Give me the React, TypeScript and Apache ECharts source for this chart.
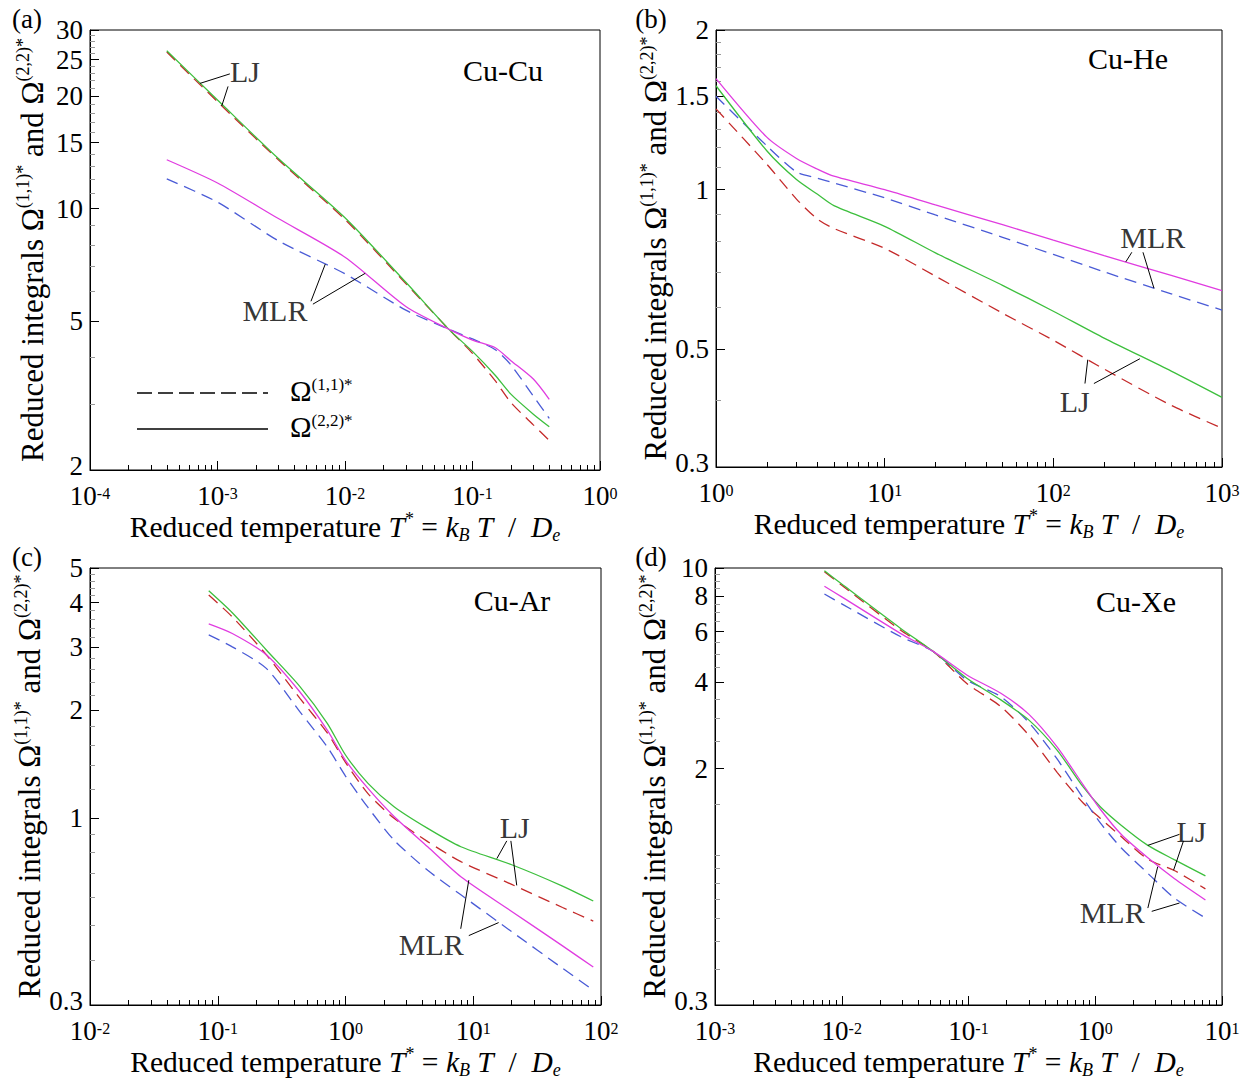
import React, { useEffect, useRef } from "react";
import * as echarts from "echarts";

const FONT = "Liberation Serif, Times New Roman, Times, serif";
const RED = "#c42a2a";
const GREEN = "#3dbf3d";
const BLUE = "#4a5bd6";
const MAGENTA = "#e03ce0";

// ---------- (a) Cu-Cu ----------
const T_A = [4e-4, 1e-3, 3e-3, 1e-2, 3e-2, 0.065, 0.1, 0.15, 0.2, 0.3, 0.4];
const LJ11_A = [26.2, 19.3, 13.5, 9.35, 6.3, 4.76, 4.1, 3.47, 3.03, 2.64, 2.4];
const LJ22_A = [26.4, 19.5, 13.6, 9.45, 6.35, 4.76, 4.15, 3.59, 3.19, 2.82, 2.61];
const MLR11_A = [12.0, 10.4, 8.2, 6.69, 5.35, 4.76, 4.48, 4.2, 3.82, 3.15, 2.75];
const MLR22_A = [13.5, 11.7, 9.4, 7.41, 5.47, 4.76, 4.45, 4.25, 3.92, 3.5, 3.09];
const Y_MAJOR_A = [2, 5, 10, 15, 20, 25, 30];
const Y_MINOR_A = [3, 4, 6, 7, 8, 9, 11, 12, 13, 14, 16, 17, 18, 19, 21, 22, 23, 24, 26, 27, 28, 29];

// ---------- (b) Cu-He ----------
const T_B = [1, 2, 3, 4, 5, 10, 20, 50, 100, 200, 500, 1000];
const LJ11_B = [1.42, 1.117, 0.96, 0.88, 0.845, 0.775, 0.687, 0.585, 0.52, 0.459, 0.392, 0.355];
const LJ22_B = [1.57, 1.184, 1.045, 0.98, 0.933, 0.853, 0.76, 0.66, 0.59, 0.525, 0.455, 0.406];
const MLR11_B = [1.5, 1.21, 1.08, 1.051, 1.03, 0.965, 0.896, 0.813, 0.755, 0.7, 0.636, 0.593];
const MLR22_B = [1.62, 1.256, 1.145, 1.093, 1.06, 1.0, 0.936, 0.859, 0.803, 0.751, 0.689, 0.645];
const Y_MAJOR_B = [0.3, 0.5, 1, 1.5, 2];
const Y_MINOR_B = [0.4, 0.6, 0.7, 0.8, 0.9, 1.1, 1.2, 1.3, 1.4, 1.6, 1.7, 1.8, 1.9];

// ---------- (c) Cu-Ar ----------
const T_C = [0.085, 0.13, 0.24, 0.44, 0.72, 1.0, 1.5, 2.4, 4.4, 8, 20, 50, 87];
const LJ11_C = [4.2, 3.65, 2.86, 2.16, 1.73, 1.43, 1.17, 0.998, 0.859, 0.755, 0.652, 0.562, 0.515];
const LJ22_C = [4.32, 3.75, 2.95, 2.33, 1.84, 1.5, 1.25, 1.075, 0.935, 0.831, 0.74, 0.645, 0.586];
const MLR11_C = [3.25, 3.01, 2.62, 1.98, 1.58, 1.31, 1.07, 0.867, 0.714, 0.61, 0.481, 0.38, 0.33];
const MLR22_C = [3.49, 3.28, 2.86, 2.25, 1.76, 1.45, 1.21, 1.01, 0.831, 0.685, 0.548, 0.439, 0.383];
const Y_MAJOR_C = [0.3, 1, 2, 3, 4, 5];
const Y_MINOR_C = [0.4, 0.5, 0.6, 0.7, 0.8, 0.9, 1.2, 1.4, 1.6, 1.8, 2.2, 2.4, 2.6, 2.8, 3.2, 3.4, 3.6, 3.8, 4.2, 4.4, 4.6, 4.8];

// ---------- (d) Cu-Xe ----------
const T_D = [0.0073, 0.01, 0.029, 0.053, 0.097, 0.18, 0.3, 0.5, 0.8, 1.1, 1.6, 2.6, 4.2, 7.4];
const LJ11_D = [9.7, 8.71, 6.08, 5.11, 3.96, 3.29, 2.61, 1.94, 1.52, 1.34, 1.16, 0.966, 0.883, 0.762];
const LJ22_D = [9.78, 8.79, 6.17, 5.11, 4.13, 3.47, 2.95, 2.32, 1.73, 1.47, 1.27, 1.08, 0.963, 0.845];
const MLR11_D = [8.12, 7.5, 5.77, 5.11, 4.07, 3.56, 2.89, 2.16, 1.58, 1.29, 1.06, 0.863, 0.708, 0.603];
const MLR22_D = [8.64, 7.93, 5.92, 5.11, 4.24, 3.66, 3.09, 2.38, 1.76, 1.44, 1.18, 0.977, 0.828, 0.697];
const Y_MAJOR_D = [0.3, 2, 4, 6, 8, 10];
const Y_MINOR_D = [0.4, 0.5, 0.6, 0.7, 0.8, 0.9, 1, 1.5, 2.5, 3, 3.5, 4.5, 5, 5.5, 6.5, 7, 7.5, 8.5, 9, 9.5];

// annotation anchors in data units [T, value]
const LABELS_A = [{ t: "LJ", at: [1.64e-3, 23.2] }, { t: "MLR", at: [2.82e-3, 5.35] }];
const LEADERS_A = [
  [[1.25e-3, 22.9], [7.3e-4, 21.6]],
  [[1.21e-3, 21.2], [1.08e-3, 18.8]],
  [[5.41e-3, 5.65], [7e-3, 7.1]],
  [[5.6e-3, 5.55], [0.0144, 6.71]],
];
const LABELS_B = [{ t: "MLR", at: [389, 0.814] }, { t: "LJ", at: [134, 0.399] }];
const LEADERS_B = [
  [[292, 0.762], [269, 0.731]],
  [[340, 0.762], [395, 0.652]],
  [[154, 0.431], [160, 0.478]],
  [[174, 0.431], [326, 0.48]],
];
const LABELS_C = [{ t: "LJ", at: [21.1, 0.939] }, { t: "MLR", at: [4.69, 0.444] }];
const LEADERS_C = [
  [[18.3, 0.863], [15.3, 0.77]],
  [[19.7, 0.863], [21.9, 0.648]],
  [[7.98, 0.49], [9.23, 0.67]],
  [[9.23, 0.469], [15.8, 0.51]],
];
const LABELS_D = [{ t: "LJ", at: [5.74, 1.21] }, { t: "MLR", at: [1.36, 0.628] }];
const LEADERS_D = [
  [[4.62, 1.18], [2.6, 1.08]],
  [[4.97, 1.12], [4.15, 0.885]],
  [[2.6, 0.653], [3.11, 0.91]],
  [[2.79, 0.636], [4.62, 0.68]],
];

const PANELS = [
  {
    box: { left: 90, top: 30, width: 510, height: 440 },
    dec: [-4, 0], yr: [2, 30], yMajor: Y_MAJOR_A, yMinor: Y_MINOR_A,
    T: T_A, lj11: LJ11_A, lj22: LJ22_A, mlr11: MLR11_A, mlr22: MLR22_A,
    labels: LABELS_A, leaders: LEADERS_A,
    letter: "(a)", letterPos: [27, 19], species: "Cu-Cu", speciesPos: [503, 70],
  },
  {
    box: { left: 716, top: 30, width: 506, height: 437 },
    dec: [0, 3], yr: [0.3, 2], yMajor: Y_MAJOR_B, yMinor: Y_MINOR_B,
    T: T_B, lj11: LJ11_B, lj22: LJ22_B, mlr11: MLR11_B, mlr22: MLR22_B,
    labels: LABELS_B, leaders: LEADERS_B,
    letter: "(b)", letterPos: [651, 19], species: "Cu-He", speciesPos: [1128, 58],
  },
  {
    box: { left: 90, top: 568, width: 511, height: 437 },
    dec: [-2, 2], yr: [0.3, 5], yMajor: Y_MAJOR_C, yMinor: Y_MINOR_C,
    T: T_C, lj11: LJ11_C, lj22: LJ22_C, mlr11: MLR11_C, mlr22: MLR22_C,
    labels: LABELS_C, leaders: LEADERS_C,
    letter: "(c)", letterPos: [27, 557], species: "Cu-Ar", speciesPos: [512, 600],
  },
  {
    box: { left: 715, top: 568, width: 507, height: 437 },
    dec: [-3, 1], yr: [0.3, 10], yMajor: Y_MAJOR_D, yMinor: Y_MINOR_D,
    T: T_D, lj11: LJ11_D, lj22: LJ22_D, mlr11: MLR11_D, mlr22: MLR22_D,
    labels: LABELS_D, leaders: LEADERS_D,
    letter: "(d)", letterPos: [651, 557], species: "Cu-Xe", speciesPos: [1136, 601],
  },
];

const lg = (v: number) => Math.log10(v);

const TICK_FS = 27;
const ANN_FS = 30;

const X_TITLE =
  "{n|Reduced temperature }{i|T}{s|*}{n| = }{i|k}{b|B}{i| T}{n|  /  }{i|D}{b|e}";
const Y_TITLE = "{n|Reduced integrals Ω}{s|(1,1)*}{n| and Ω}{s|(2,2)*}";

const xTitleRich = {
  n: { fontFamily: FONT, fontSize: 29.5, color: "#000", lineHeight: 34 },
  i: { fontFamily: FONT, fontSize: 29.5, fontStyle: "italic", color: "#000", lineHeight: 34 },
  s: { fontFamily: FONT, fontSize: 18, color: "#000", verticalAlign: "top", lineHeight: 18 },
  b: { fontFamily: FONT, fontSize: 18, fontStyle: "italic", color: "#000", verticalAlign: "bottom", lineHeight: 18 },
};
const yTitleRich = {
  n: { fontFamily: FONT, fontSize: 31, color: "#000", lineHeight: 36 },
  s: { fontFamily: FONT, fontSize: 18, color: "#000", verticalAlign: "top", lineHeight: 18 },
};

function buildOption() {
  const grid: any[] = [];
  const xAxis: any[] = [];
  const yAxis: any[] = [];
  const series: any[] = [];
  const graphic: any[] = [];

  PANELS.forEach((p, gi) => {
    grid.push({ ...p.box, show: true, borderColor: "#000", borderWidth: 1, backgroundColor: "transparent" });

    const xMinor: number[] = [];
    for (let d = p.dec[0]; d < p.dec[1]; d++) for (let k = 2; k <= 9; k++) xMinor.push(d + lg(k));

    const xi = xAxis.length;
    xAxis.push({
      type: "value", gridIndex: gi, min: p.dec[0], max: p.dec[1], interval: 1, position: "bottom",
      axisLine: { show: true, onZero: false, lineStyle: { color: "#000", width: 1 } },
      axisTick: { show: true, inside: true, length: 9, lineStyle: { color: "#000", width: 1 } },
      axisLabel: {
        margin: 15, showMinLabel: true, showMaxLabel: true,
        formatter: (v: number) => "{b|10}{s|" + Math.round(v) + "}",
        rich: {
          b: { fontFamily: FONT, fontSize: TICK_FS, color: "#000", lineHeight: 22 },
          s: { fontFamily: FONT, fontSize: 16, color: "#000", verticalAlign: "top", lineHeight: 12 },
        },
      },
      splitLine: { show: false },
      name: X_TITLE, nameLocation: "middle", nameGap: 39,
      nameTextStyle: { rich: xTitleRich },
    });
    xAxis.push({
      type: "value", gridIndex: gi, min: p.dec[0], max: p.dec[1], position: "bottom",
      axisLine: { show: false, onZero: false }, axisLabel: { show: false }, splitLine: { show: false },
      axisTick: { show: true, inside: true, length: 5, customValues: xMinor, lineStyle: { color: "#000", width: 1 } },
    });

    const yMaj = p.yMajor.map(lg);
    const yMin = p.yMinor.map(lg);
    const majors = p.yMajor;
    const yi = yAxis.length;
    yAxis.push({
      type: "value", gridIndex: gi, min: lg(p.yr[0]), max: lg(p.yr[1]), position: "left",
      axisLine: { show: true, onZero: false, lineStyle: { color: "#000", width: 1 } },
      axisTick: { show: true, inside: true, length: 9, customValues: yMaj, lineStyle: { color: "#000", width: 1 } },
      axisLabel: {
        margin: 7, customValues: yMaj, showMinLabel: true, showMaxLabel: true,
        fontFamily: FONT, fontSize: TICK_FS, color: "#000", lineHeight: 20,
        formatter: (v: number) => {
          let bi = 0;
          majors.forEach((m, k) => { if (Math.abs(lg(m) - v) < Math.abs(lg(majors[bi]) - v)) bi = k; });
          return bi === 0 ? "{lo|" + majors[bi] + "}" : String(majors[bi]);
        },
        rich: {
          lo: { fontFamily: FONT, fontSize: TICK_FS, color: "#000", lineHeight: 20, padding: [0, 0, 8, 0] },
        },
      },
      splitLine: { show: false },
      name: Y_TITLE, nameLocation: "middle", nameRotate: 90, nameGap: 40,
      nameTextStyle: { rich: yTitleRich },
    });
    yAxis.push({
      type: "value", gridIndex: gi, min: lg(p.yr[0]), max: lg(p.yr[1]), position: "left",
      axisLine: { show: false, onZero: false }, axisLabel: { show: false }, splitLine: { show: false },
      axisTick: { show: true, inside: true, length: 5, customValues: yMin, lineStyle: { color: "#999", width: 1 } },
    });

    const curves = [
      { name: "LJ Ω(1,1)*", d: p.lj11, c: RED, dash: true },
      { name: "MLR Ω(1,1)*", d: p.mlr11, c: BLUE, dash: true },
      { name: "LJ Ω(2,2)*", d: p.lj22, c: GREEN, dash: false },
      { name: "MLR Ω(2,2)*", d: p.mlr22, c: MAGENTA, dash: false },
    ];
    curves.forEach((cv) => {
      series.push({
        type: "line", name: cv.name, xAxisIndex: xi, yAxisIndex: yi,
        data: p.T.map((t, k) => [lg(t), lg(cv.d[k])]),
        symbol: "none", showSymbol: false, smooth: 0.25, silent: true,
        lineStyle: { color: cv.c, width: 1.3, type: cv.dash ? [12, 7] : "solid" },
      });
    });

    p.leaders.forEach((seg) => {
      series.push({
        type: "line", xAxisIndex: xi, yAxisIndex: yi, silent: true, symbol: "none", showSymbol: false,
        data: seg.map((q) => [lg(q[0]), lg(q[1])]),
        lineStyle: { color: "#000", width: 1 }, z: 5,
      });
    });

    series.push({
      type: "scatter", xAxisIndex: xi, yAxisIndex: yi, silent: true, symbolSize: 0,
      itemStyle: { color: "rgba(0,0,0,0)" },
      data: p.labels.map((l) => ({ value: [lg(l.at[0]), lg(l.at[1])], name: l.t })),
      label: {
        show: true, position: "inside", formatter: (o: any) => o.name,
        fontFamily: FONT, fontSize: ANN_FS, color: "#000",
      },
      z: 6,
    });

    graphic.push({
      type: "text", x: p.letterPos[0], y: p.letterPos[1],
      style: { text: p.letter, fontFamily: FONT, fontSize: TICK_FS, fill: "#000", align: "center", verticalAlign: "middle" },
    });
    graphic.push({
      type: "text", x: p.speciesPos[0], y: p.speciesPos[1],
      style: { text: p.species, fontFamily: FONT, fontSize: ANN_FS, fill: "#000", align: "center", verticalAlign: "middle" },
    });
  });

  // legend inside panel (a)
  const legRich = {
    o: { fontFamily: FONT, fontSize: 29, fill: "#000", color: "#000", lineHeight: 30 },
    s: { fontFamily: FONT, fontSize: 17, fill: "#000", color: "#000", verticalAlign: "top", lineHeight: 16 },
  };
  graphic.push({ type: "line", shape: { x1: 137, y1: 393, x2: 268, y2: 393 }, style: { stroke: "#000", lineWidth: 1.3, lineDash: [15, 6] } });
  graphic.push({ type: "line", shape: { x1: 137, y1: 429, x2: 268, y2: 429 }, style: { stroke: "#000", lineWidth: 1.3 } });
  graphic.push({ type: "text", x: 290, y: 391, style: { text: "{o|Ω}{s|(1,1)*}", rich: legRich, align: "left", verticalAlign: "middle" } });
  graphic.push({ type: "text", x: 290, y: 427, style: { text: "{o|Ω}{s|(2,2)*}", rich: legRich, align: "left", verticalAlign: "middle" } });

  return { animation: false, backgroundColor: "#fff", grid, xAxis, yAxis, series, graphic };
}

export default function App() {
  const ref = useRef<HTMLDivElement>(null);
  useEffect(() => {
    if (!ref.current) return;
    const chart = echarts.init(ref.current, undefined, { renderer: "svg" });
    chart.setOption(buildOption() as any);
    return () => chart.dispose();
  }, []);
  return (
    <div
      ref={ref}
      style={{ position: "absolute", left: 0, top: 0, width: 1243, height: 1085, background: "#fff" }}
    />
  );
}
